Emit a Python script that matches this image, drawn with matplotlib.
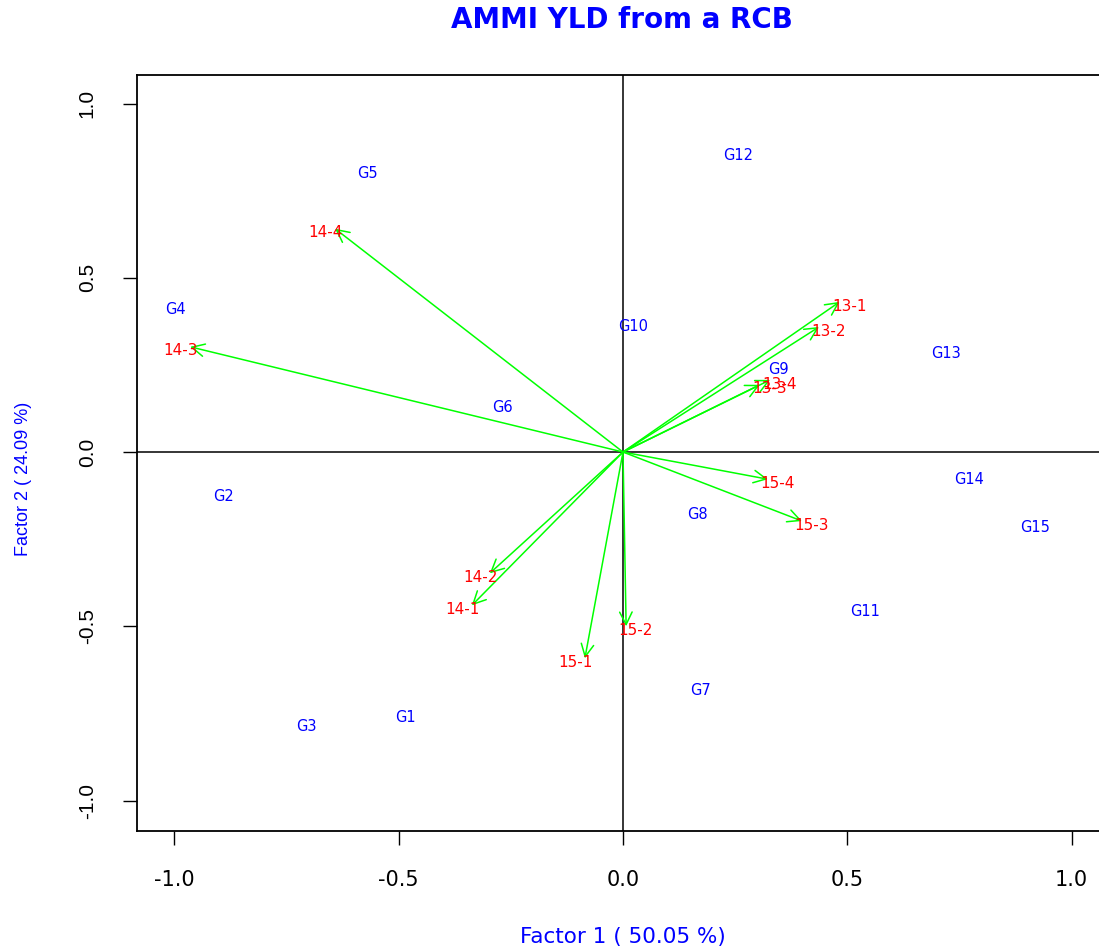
import matplotlib
matplotlib.use("Agg")
import matplotlib.pyplot as plt
import numpy as np

# Genotype scores (Factor 1, Factor 2)
genotypes = ["G1", "G2", "G3", "G4", "G5", "G6", "G7", "G8", "G9", "G10",
             "G11", "G12", "G13", "G14", "G15"]
gen_f1 = [-0.486, -0.890, -0.707, -0.999, -0.569, -0.268, 0.172, 0.167, 0.346, 0.022,
          0.540, 0.256, 0.720, 0.771, 0.919]
gen_f2 = [-0.761, -0.129, -0.787, 0.408, 0.800, 0.129, -0.684, -0.178, 0.236, 0.359,
          -0.457, 0.851, 0.282, -0.078, -0.216]

# Environment scores (arrow tips)
environments = ["13-1", "13-2", "13-3", "13-4", "14-1", "14-2", "14-3", "14-4",
                "15-1", "15-2", "15-3", "15-4"]
env_f1 = [0.483, 0.437, 0.305, 0.328, -0.337, -0.297, -0.965, -0.642,
          -0.085, 0.007, 0.399, 0.323]
env_f2 = [0.431, 0.359, 0.193, 0.207, -0.440, -0.348, 0.302, 0.641,
          -0.592, -0.500, -0.198, -0.078]

title = "AMMI YLD from a RCB"
xlabel = "Factor 1 ( 50.05 %)"
ylabel = "Factor 2 ( 24.09 %)"
ticks = [-1.0, -0.5, 0.0, 0.5, 1.0]
tick_labels = ["-1.0", "-0.5", "0.0", "0.5", "1.0"]

W, H = 1099, 948
fig = plt.figure(figsize=(W / 100, H / 100), dpi=100)
left, right, top, bottom = 137, 1109, 75, 831
ax = fig.add_axes([left / W, (H - bottom) / H, (right - left) / W, (bottom - top) / H])
ax.set_xlim(-1.0836, 1.0836)
ax.set_ylim(-1.0875, 1.082)

ax.axhline(0, color="black", lw=1.1, zorder=1)
ax.axvline(0, color="black", lw=1.1, zorder=1)

for x, y in zip(env_f1, env_f2):
    ax.annotate("", xy=(x, y), xytext=(0, 0),
                arrowprops=dict(arrowstyle="->,head_length=0.9,head_width=0.45",
                                color="#00FF00", lw=1.1, shrinkA=0, shrinkB=0),
                zorder=2)

for name, x, y in zip(environments, env_f1, env_f2):
    ax.annotate(name, xy=(x, y), xytext=(7.0 * np.sign(x), -3.0),
                textcoords="offset points", ha="center", va="center",
                color="#FF0000", fontsize=11, family="DejaVu Sans", zorder=3)

for name, x, y in zip(genotypes, gen_f1, gen_f2):
    ax.text(x, y, name, ha="center", va="center", color="#0000FF",
            fontsize=10.5, family="DejaVu Sans", zorder=3)

ax.set_xticks(ticks)
ax.set_xticklabels(tick_labels, fontsize=15, family="DejaVu Sans")
ax.set_yticks(ticks)
ax.set_yticklabels(tick_labels, fontsize=15, family="Liberation Sans",
                   rotation=90, va="center")
ax.tick_params(axis="both", direction="out", length=10, width=1.0, color="black")
ax.tick_params(axis="x", pad=18)
ax.tick_params(axis="y", pad=19)
for sp in ax.spines.values():
    sp.set_linewidth(1.3)
    sp.set_color("black")
ax.spines["right"].set_visible(False)

fig.text(622 / W, 1 - 20 / H, title, ha="center", va="center", color="#0000FF",
         fontsize=20, fontweight="bold", family="DejaVu Sans")
fig.text(623 / W, 1 - 937 / H, xlabel, ha="center", va="center", color="#0000FF",
         fontsize=15.5, family="DejaVu Sans")
fig.text(24 / W, 1 - 479 / H, ylabel, ha="center", va="center", color="#0000FF",
         fontsize=13, family="Liberation Sans", rotation=90)

fig.savefig("out.png", dpi=100)
